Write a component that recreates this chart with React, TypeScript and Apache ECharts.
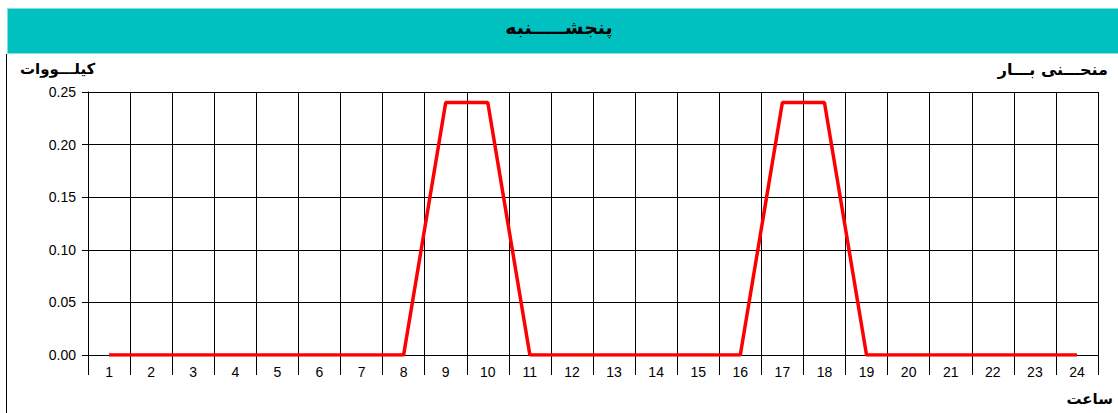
import React, { useEffect, useRef } from "react";
import * as echarts from "echarts";

const hours = ["1","2","3","4","5","6","7","8","9","10","11","12","13","14","15","16","17","18","19","20","21","22","23","24"];
const loadKw = [0,0,0,0,0,0,0,0,0.24,0.24,0,0,0,0,0,0,0.24,0.24,0,0,0,0,0,0];
const titleText = "پنجشـــــنبه";
const yName = "کیلـــووات";
const curveName = "منحـــنی بـــار";
const xName = "ساعت";

export default function App() {
  const ref = useRef<HTMLDivElement>(null);
  useEffect(() => {
    const chart = echarts.init(ref.current!, null, { renderer: "svg" });
    const persian = "DejaVu Sans";
    chart.setOption({
      animation: false,
      backgroundColor: "#ffffff",
      grid: { left: 88, right: 20, top: 92, bottom: 58 },
      graphic: [
        { type: "rect", left: 7, top: 8, shape: { width: 1111, height: 45 }, style: { fill: "#00C0C0", stroke: "#7fe0e0", lineWidth: 1 } },
        { type: "text", left: "center", top: 17, style: { text: titleText, font: `bold 19px "${persian}"`, fill: "#000" } },
        { type: "line", shape: { x1: 6.5, y1: 54, x2: 6.5, y2: 413 }, style: { stroke: "#000", lineWidth: 1 } },
        { type: "text", left: 20, top: 61, style: { text: yName, font: `bold 15px "${persian}"`, fill: "#000" } },
        { type: "text", right: 10, top: 61, style: { text: curveName, font: `bold 16px "${persian}"`, fill: "#000" } },
        { type: "text", right: 5, top: 391, style: { text: xName, font: `bold 15px "${persian}"`, fill: "#000" } },
      ],
      xAxis: {
        type: "category",
        data: hours,
        boundaryGap: true,
        axisLine: { show: true, lineStyle: { color: "#000", width: 1 } },
        axisTick: { show: true, interval: 0, length: 20, lineStyle: { color: "#000", width: 1 } },
        axisLabel: { interval: 0, color: "#000", fontSize: 14, fontFamily: "Liberation Sans", margin: 10 },
        splitLine: { show: true, interval: 0, lineStyle: { color: "#000", width: 1 } },
      },
      yAxis: {
        type: "value",
        min: 0,
        max: 0.25,
        interval: 0.05,
        axisLine: { show: true, lineStyle: { color: "#000", width: 1 } },
        axisTick: { show: true, length: 6, lineStyle: { color: "#000", width: 1 } },
        axisLabel: { color: "#000", fontSize: 14, fontFamily: "Liberation Sans", margin: 12, formatter: (v: number) => v.toFixed(2) },
        splitLine: { show: true, lineStyle: { color: "#000", width: 1 } },
      },
      series: [
        {
          type: "line",
          data: loadKw,
          showSymbol: false,
          symbol: "none",
          lineStyle: { color: "#ff0000", width: 3.5 },
          itemStyle: { color: "#ff0000" },
        },
      ],
    });
    return () => chart.dispose();
  }, []);
  return <div ref={ref} style={{ position: "fixed", left: 0, top: 0, width: 1118, height: 413 }} />;
}
